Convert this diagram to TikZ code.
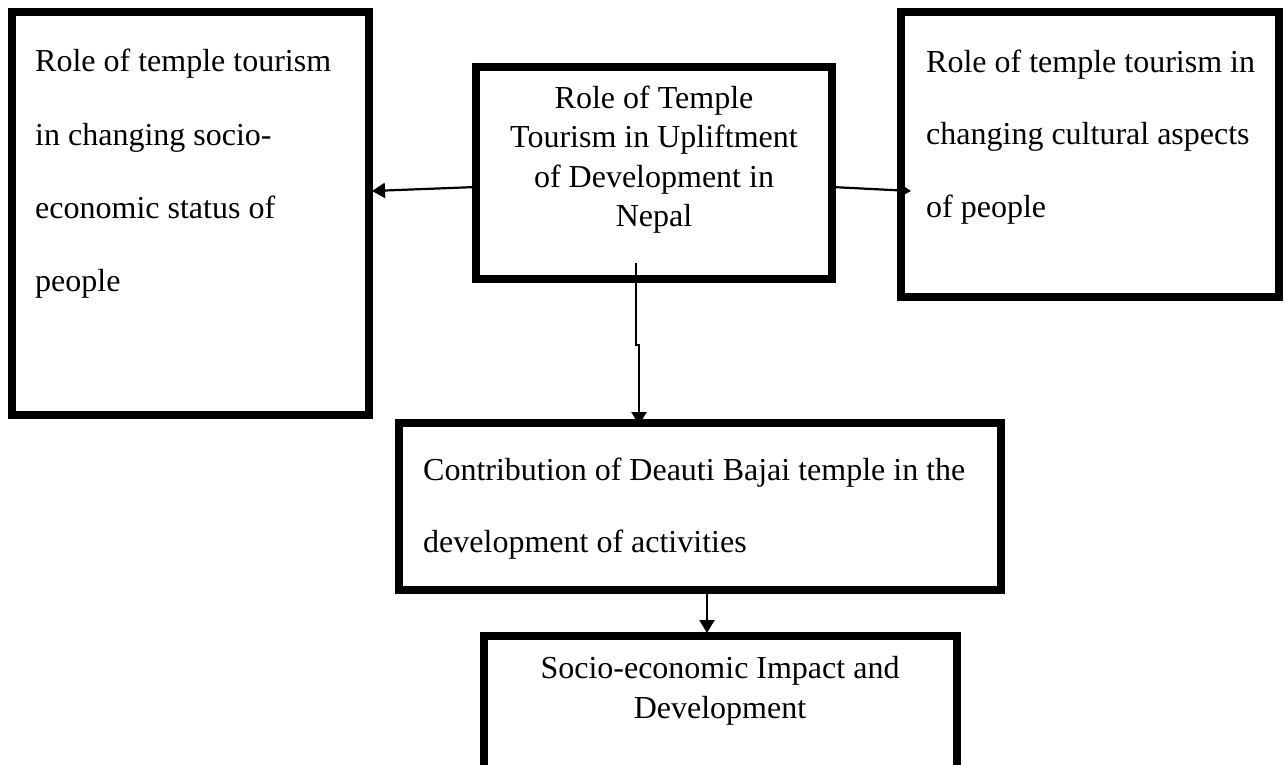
\documentclass[tikz,border=0pt]{standalone}
\usepackage{fontspec}
\setmainfont{Liberation Serif}
\usetikzlibrary{arrows.meta,calc}
\tikzset{
  box/.style={draw=black, line width=8.5pt, inner sep=0pt, outer sep=0pt, anchor=north west},
  conn/.style={draw=black, line width=2.2pt, -{Triangle[length=13pt,width=15pt]}},
  dbl/.style={inner sep=0pt, anchor=base west, font=\fontsize{32}{73.3}\selectfont},
  sgl/.style={inner sep=0pt, anchor=base, font=\fontsize{32}{39.5}\selectfont},
}
\begin{document}
\begin{tikzpicture}[x=1pt,y=-1pt]
\useasboundingbox (0,0) rectangle (1286,764);
\clip (0,0) rectangle (1286,764);
% boxes
\node[box, minimum width=357pt, minimum height=403pt] (lbox) at (12,12) {};
\node[box, minimum width=356pt, minimum height=212pt] (cbox) at (476,67) {};
\node[box, minimum width=378pt, minimum height=285pt] (rbox) at (901,12) {};
\node[box, minimum width=602pt, minimum height=167pt] (mbox) at (399,423) {};
\node[box, minimum width=473pt, minimum height=170pt] (bbox) at (484,636) {};
% texts
\node[dbl] (ltxt) at (35,71.7) {\parbox[t]{320pt}{\raggedright Role of temple tourism\\in changing socio-\\economic status of\\people}};
\node[sgl] (ctxt) at (654,108) {\parbox[t]{340pt}{\centering Role of Temple\\Tourism in Upliftment\\of Development in\\Nepal}};
\node[dbl, font=\fontsize{32}{72.5}\selectfont] (rtxt) at (926,72) {\parbox[t]{350pt}{\raggedright Role of temple tourism in\\changing cultural aspects\\of people}};
\node[dbl, font=\fontsize{32}{72}\selectfont] (mtxt) at (423,480) {\parbox[t]{570pt}{\raggedright Contribution of Deauti Bajai temple in the\\development of activities}};
\node[sgl, font=\fontsize{32}{40}\selectfont] (btxt) at (720,678) {\parbox[t]{450pt}{\centering Socio-economic Impact and\\Development}};
% connectors
\draw[conn] ($(cbox.west)+(0,14)$) -- ($(lbox.north east)+(3,179)$);
\draw[conn] ($(cbox.east)+(0,14)$) -- ($(rbox.north west)+(10,179)$);
\coordinate (dstart) at ($(cbox.south)+(-18,-16)$);
\draw[conn] (dstart) -- ++(0,82) -- ++(3,0) -- ($(mbox.north west)+(240,2)$);
\draw[conn] ($(mbox.south west)+(308,4)$) -- ($(bbox.north west)+(223,-3)$);
\end{tikzpicture}
\end{document}
